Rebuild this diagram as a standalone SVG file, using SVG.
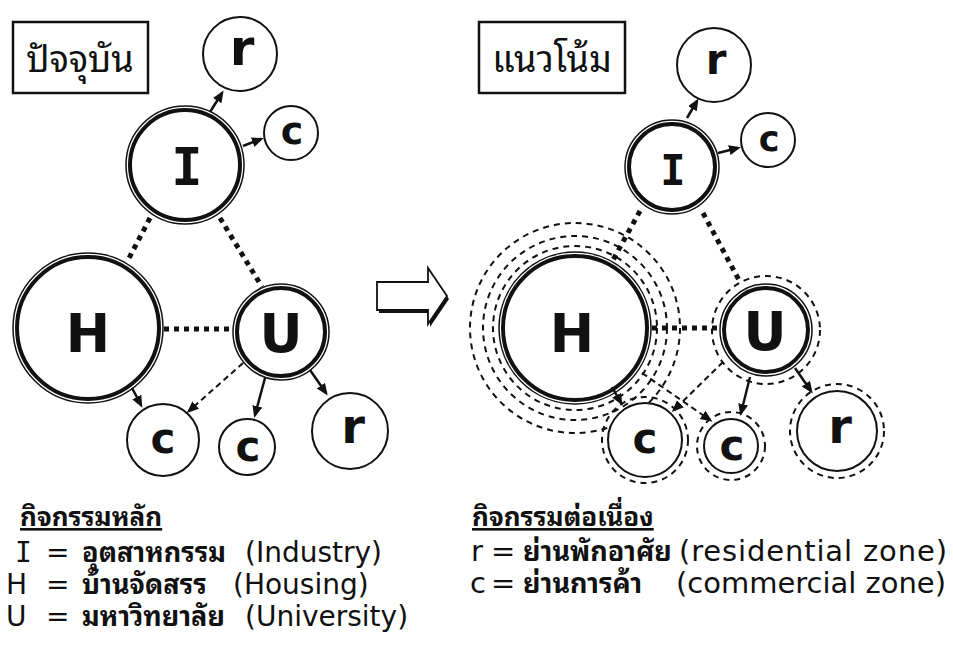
<svg xmlns="http://www.w3.org/2000/svg" width="953" height="658" viewBox="0 0 953 658">
<style>
.bg{fill:#fff}
.thin{fill:#fff;stroke:#111;stroke-width:1.5}
.thick{fill:none;stroke:#111;stroke-width:4}
.plain{fill:#fff;stroke:#111;stroke-width:2}
.ring{fill:none;stroke:#111;stroke-width:2;stroke-dasharray:6 5}
.dot{stroke:#111;stroke-width:5;stroke-dasharray:5 5;fill:none}
.arr{stroke:#111;stroke-width:2.5;fill:none;marker-end:url(#ah)}
.darr{stroke:#111;stroke-width:2;stroke-dasharray:6 4;fill:none;marker-end:url(#ah)}
.lbl{font-family:'DejaVu Sans','Liberation Sans',sans-serif;font-weight:bold;text-anchor:middle;fill:#111}
.lblI{font-family:'DejaVu Sans Mono','Liberation Mono',monospace;font-weight:bold;text-anchor:middle;fill:#111}
.box{fill:#fff;stroke:#111;stroke-width:2.5}
.th{font-family:'Noto Sans Thai Looped','Noto Sans Thai','Tahoma','Noto Sans',sans-serif;fill:#111}
.thl{font-family:'Noto Sans Thai Looped','Noto Sans Thai','Tahoma','Noto Sans',sans-serif;fill:#111;font-size:27px;font-weight:bold}
.lat{font-family:'DejaVu Sans','Liberation Sans',sans-serif;fill:#111}
.mono{font-family:'DejaVu Sans Mono','Liberation Mono',monospace;fill:#111}
</style>
<defs>
<marker id="ah" markerUnits="userSpaceOnUse" markerWidth="13" markerHeight="11" refX="9" refY="5" orient="auto">
<path d="M0,0 L12,5 L0,10 Z" fill="#111"/>
</marker>
</defs>
<rect class="bg" x="0" y="0" width="953" height="658"/>

<!-- Left diagram -->
<g id="title-left">
<rect class="box" x="13" y="22" width="135" height="71"/>
<text class="th" x="80" y="72" font-size="36" text-anchor="middle">ปัจจุบัน</text>
</g>
<g id="L-I">
<circle class="thin" cx="185" cy="165" r="59"/>
<circle class="thick" cx="185" cy="165" r="55"/>
<text class="lblI" x="187" y="185" font-size="52">I</text>
</g>
<g id="L-r1">
<circle class="plain" cx="240" cy="54" r="37"/>
<text class="lbl" x="242" y="65" font-size="50">r</text>
</g>
<g id="L-c1">
<circle class="plain" cx="291" cy="133" r="27"/>
<text class="lbl" x="292" y="144" font-size="38">c</text>
</g>
<g id="L-H">
<circle class="thin" cx="88" cy="328" r="75"/>
<circle class="thick" cx="88" cy="328" r="71"/>
<text class="lbl" x="88" y="352" font-size="53">H</text>
</g>
<g id="L-U">
<circle class="thin" cx="281" cy="332" r="48"/>
<circle class="thick" cx="281" cy="332" r="44"/>
<text class="lbl" x="281" y="352" font-size="53">U</text>
</g>
<g id="L-c2">
<circle class="plain" cx="163" cy="440" r="36"/>
<text class="lbl" x="163" y="453" font-size="42">c</text>
</g>
<g id="L-c3">
<circle class="plain" cx="247" cy="447" r="28"/>
<text class="lbl" x="248" y="461" font-size="42">c</text>
</g>
<g id="L-r2">
<circle class="plain" cx="350" cy="431" r="38"/>
<text class="lbl" x="353" y="443" font-size="48">r</text>
</g>

<!-- Middle arrow -->
<g id="transition-arrow">
<path d="M377,282 H428 V268 L447,296 L428,324 V310 H377 Z" transform="translate(2,3)" fill="#111"/>
<path d="M377,282 H428 V268 L447,296 L428,324 V310 H377 Z" fill="#fff" stroke="#111" stroke-width="1.8" stroke-linejoin="miter"/>
</g>

<!-- Right diagram -->
<g id="title-right">
<rect class="box" x="479" y="22" width="146" height="71"/>
<text class="th" x="552" y="72" font-size="36" text-anchor="middle">แนวโน้ม</text>
</g>
<g id="R-I">
<circle class="thin" cx="672" cy="167" r="47"/>
<circle class="thick" cx="672" cy="167" r="43"/>
<text class="lblI" x="673" y="185" font-size="42">I</text>
</g>
<g id="R-r1">
<circle class="plain" cx="714" cy="65" r="37"/>
<text class="lbl" x="716" y="74" font-size="42">r</text>
</g>
<g id="R-c1">
<circle class="plain" cx="768" cy="140" r="27"/>
<text class="lbl" x="769" y="151" font-size="35">c</text>
</g>
<g id="R-H">
<circle class="ring" cx="575" cy="328" r="105"/>
<circle class="ring" cx="575" cy="328" r="92"/>
<circle class="ring" cx="575" cy="328" r="82"/>
<circle class="thin" cx="575" cy="328" r="76"/>
<circle class="thick" cx="575" cy="328" r="72"/>
<text class="lbl" x="572" y="352" font-size="53">H</text>
</g>
<g id="R-U">
<circle class="ring" cx="766" cy="330" r="54"/>
<circle class="thin" cx="766" cy="330" r="46"/>
<circle class="thick" cx="766" cy="330" r="42"/>
<text class="lbl" x="765" y="350" font-size="53">U</text>
</g>
<g id="R-c2">
<circle class="ring" cx="645" cy="440" r="43"/>
<circle class="plain" cx="645" cy="440" r="37"/>
<text class="lbl" x="645" y="453" font-size="42">c</text>
</g>
<g id="R-c3">
<circle class="ring" cx="731" cy="446" r="34"/>
<circle class="plain" cx="731" cy="446" r="27"/>
<text class="lbl" x="732" y="460" font-size="42">c</text>
</g>
<g id="R-r2">
<circle class="ring" cx="837" cy="431" r="47"/>
<circle class="plain" cx="837" cy="431" r="40"/>
<text class="lbl" x="840" y="443" font-size="48">r</text>
</g>

<!-- Connectors -->
<g id="connectors">
<line class="dot" x1="150" y1="218" x2="127" y2="262"/>
<line class="dot" x1="220" y1="218" x2="262" y2="287"/>
<line class="dot" x1="164" y1="329" x2="233" y2="329"/>
<line class="arr" x1="210" y1="112" x2="222" y2="93"/>
<line class="arr" x1="243" y1="146" x2="261" y2="139"/>
<line class="arr" x1="132" y1="388" x2="141" y2="405"/>
<line class="darr" x1="243" y1="363" x2="189" y2="411"/>
<line class="arr" x1="265" y1="378" x2="255" y2="415"/>
<line class="arr" x1="310" y1="370" x2="326" y2="393"/>

<line class="dot" x1="640" y1="211" x2="613" y2="260"/>
<line class="dot" x1="703" y1="213" x2="740" y2="282"/>
<line class="dot" x1="652" y1="328" x2="720" y2="328"/>
<line class="arr" x1="687" y1="118" x2="697" y2="101"/>
<line class="arr" x1="718" y1="153" x2="738" y2="148"/>
<line class="arr" x1="612" y1="387" x2="621" y2="403"/>
<line class="darr" x1="723" y1="362" x2="674" y2="410"/>
<line class="darr" x1="642" y1="373" x2="710" y2="420"/>
<line class="arr" x1="750" y1="377" x2="741" y2="413"/>
<line class="arr" x1="795" y1="368" x2="811" y2="391"/>
</g>

<!-- Legend -->
<g id="legend-main">
<text class="th" x="20" y="526" font-size="26" font-weight="bold" text-decoration="underline">กิจกรรมหลัก</text>
<text y="562" font-size="28"><tspan class="mono" x="15">I</tspan><tspan class="lat" x="46">=</tspan><tspan class="thl" x="82">อุตสาหกรรม</tspan><tspan class="lat" x="245">(Industry)</tspan></text>
<text y="594" font-size="28"><tspan class="lat" x="6">H</tspan><tspan class="lat" x="46">=</tspan><tspan class="thl" x="82">บ้านจัดสรร</tspan><tspan class="lat" x="233">(Housing)</tspan></text>
<text y="626" font-size="28"><tspan class="lat" x="6">U</tspan><tspan class="lat" x="46">=</tspan><tspan class="thl" x="82">มหาวิทยาลัย</tspan><tspan class="lat" x="245">(University)</tspan></text>
</g>
<g id="legend-secondary">
<text class="th" x="472" y="526" font-size="26" font-weight="bold" text-decoration="underline">กิจกรรมต่อเนื่อง</text>
<text y="561" font-size="29"><tspan class="lat" x="471">r</tspan><tspan class="lat" x="491">=</tspan><tspan class="thl" x="523">ย่านพักอาศัย</tspan><tspan class="lat" x="679" textLength="268" lengthAdjust="spacing">(residential zone)</tspan></text>
<text y="593" font-size="29"><tspan class="lat" x="470">c</tspan><tspan class="lat" x="491">=</tspan><tspan class="thl" x="523">ย่านการค้า</tspan><tspan class="lat" x="676" textLength="270" lengthAdjust="spacing">(commercial zone)</tspan></text>
</g>
</svg>
